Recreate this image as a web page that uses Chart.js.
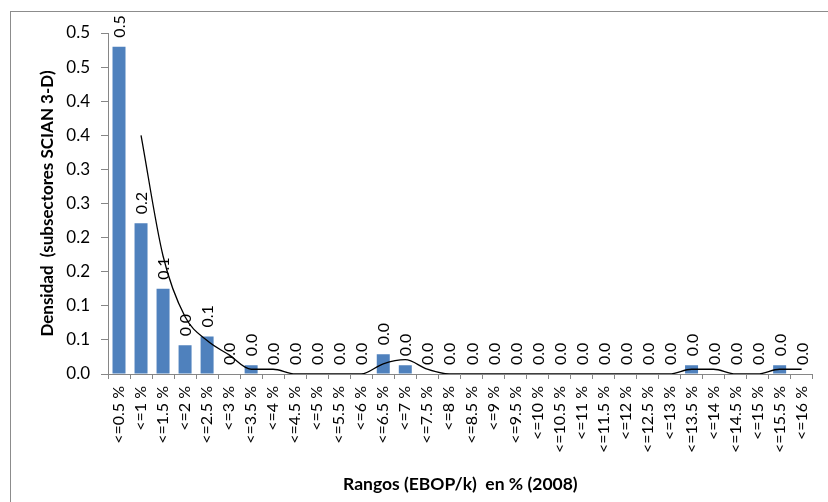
<!DOCTYPE html>
<html>
<head>
<meta charset="utf-8">
<script src="https://cdn.jsdelivr.net/npm/chart.js@4.4.0/dist/chart.umd.min.js"></script>
<style>
    body { margin: 0; background: #fff; }
    #wrap { position: relative; width: 828px; height: 502px; overflow: hidden; }
    #frame { position: absolute; left: 10px; top: 11px; width: 900px; height: 600px; border: 1px solid #8c8c8c; }
    canvas { position: absolute; left: 0; top: 0; }
</style>
</head>
<body>
<div id="wrap">
    <div id="frame"></div>
    <canvas id="densidad_chart" width="828" height="502"></canvas>
</div>
<script>
// rangos (EBOP/k) en %
const rangos = ["<=0.5 %", "<=1 %", "<=1.5 %", "<=2 %", "<=2.5 %", "<=3 %", "<=3.5 %", "<=4 %",
    "<=4.5 %", "<=5 %", "<=5.5 %", "<=6 %", "<=6.5 %", "<=7 %", "<=7.5 %", "<=8 %",
    "<=8.5 %", "<=9 %", "<=9.5 %", "<=10 %", "<=10.5 %", "<=11 %", "<=11.5 %", "<=12 %",
    "<=12.5 %", "<=13 %", "<=13.5 %", "<=14 %", "<=14.5 %", "<=15 %", "<=15.5 %", "<=16 %"];

const densidad = [0.48, 0.221, 0.125, 0.042, 0.055, 0, 0.013, 0,
    0, 0, 0, 0, 0.029, 0.013, 0, 0,
    0, 0, 0, 0, 0, 0, 0, 0,
    0, 0, 0.013, 0, 0, 0, 0.013, 0];

// media movil (2 periodos)
const tendencia = [null, 0.35, 0.173, 0.084, 0.049, 0.028, 0.007, 0.007,
    0, 0, 0, 0, 0.015, 0.021, 0.007, 0,
    0, 0, 0, 0, 0, 0, 0, 0,
    0, 0, 0.007, 0.007, 0, 0, 0.007, 0.007];

const yTickLabels = ["0.0", "0.1", "0.1", "0.2", "0.2", "0.3", "0.3", "0.4", "0.4", "0.5", "0.5"];

const fontFamily = "Lato, 'Open Sans', sans-serif";

const barLabels = {
    id: 'barLabels',
    afterDatasetsDraw(chart) {
        const ctx = chart.ctx;
        const meta = chart.getDatasetMeta(1);
        ctx.save();
        ctx.fillStyle = '#000';
        ctx.font = "16px " + fontFamily;
        ctx.textAlign = 'left';
        ctx.textBaseline = 'middle';
        meta.data.forEach((bar, i) => {
            ctx.save();
            ctx.translate(bar.x + 1, bar.y - 9);
            ctx.rotate(-Math.PI / 2);
            ctx.fillText(densidad[i].toFixed(1), 0, 0);
            ctx.restore();
        });
        ctx.restore();
    }
};

document.addEventListener("DOMContentLoaded", function () {
    const ctx = document.getElementById("densidad_chart").getContext("2d");
    new Chart(ctx, {
        data: {
            labels: rangos,
            datasets: [
                {
                    type: 'line',
                    data: tendencia,
                    borderColor: '#000',
                    borderWidth: 1.3,
                    pointRadius: 0,
                    cubicInterpolationMode: 'monotone',
                    order: 0
                },
                {
                    type: 'bar',
                    data: densidad,
                    backgroundColor: '#4F81BD',
                    barPercentage: 0.59,
                    categoryPercentage: 1,
                    order: 1
                }
            ]
        },
        options: {
            responsive: false,
            animation: false,
            layout: { padding: { left: 0, right: 9, top: 33, bottom: 0 } },
            plugins: {
                legend: { display: false },
                tooltip: { enabled: false }
            },
            scales: {
                x: {
                    offset: true,
                    border: { color: '#868686', width: 1 },
                    grid: {
                        offset: true,
                        drawOnChartArea: false,
                        color: '#868686',
                        tickLength: 5
                    },
                    ticks: {
                        autoSkip: false,
                        minRotation: 90,
                        maxRotation: 90,
                        color: '#000',
                        padding: 7,
                        font: { family: fontFamily, size: 16 }
                    },
                    title: {
                        display: true,
                        text: 'Rangos (EBOP/k)  en % (2008)',
                        color: '#000',
                        font: { family: fontFamily, size: 17.5, weight: 'bold' },
                        padding: { top: 0, bottom: 7 }
                    },
                    afterFit: (scale) => { scale.height = 128; }
                },
                y: {
                    min: 0,
                    max: 0.5,
                    border: { color: '#868686', width: 1 },
                    grid: {
                        drawOnChartArea: false,
                        color: '#868686',
                        tickLength: 7
                    },
                    ticks: {
                        stepSize: 0.05,
                        color: '#000',
                        padding: 11,
                        font: { family: fontFamily, size: 17 },
                        callback: (value, index) => yTickLabels[index]
                    },
                    title: {
                        display: true,
                        text: 'Densidad  (subsectores SCIAN 3-D)',
                        color: '#000',
                        font: { family: fontFamily, size: 17, weight: 'bold' },
                        padding: { top: 37, bottom: 0 }
                    },
                    afterFit: (scale) => { scale.width = 108; }
                }
            }
        },
        plugins: [barLabels]
    });
});
</script>
</body>
</html>
